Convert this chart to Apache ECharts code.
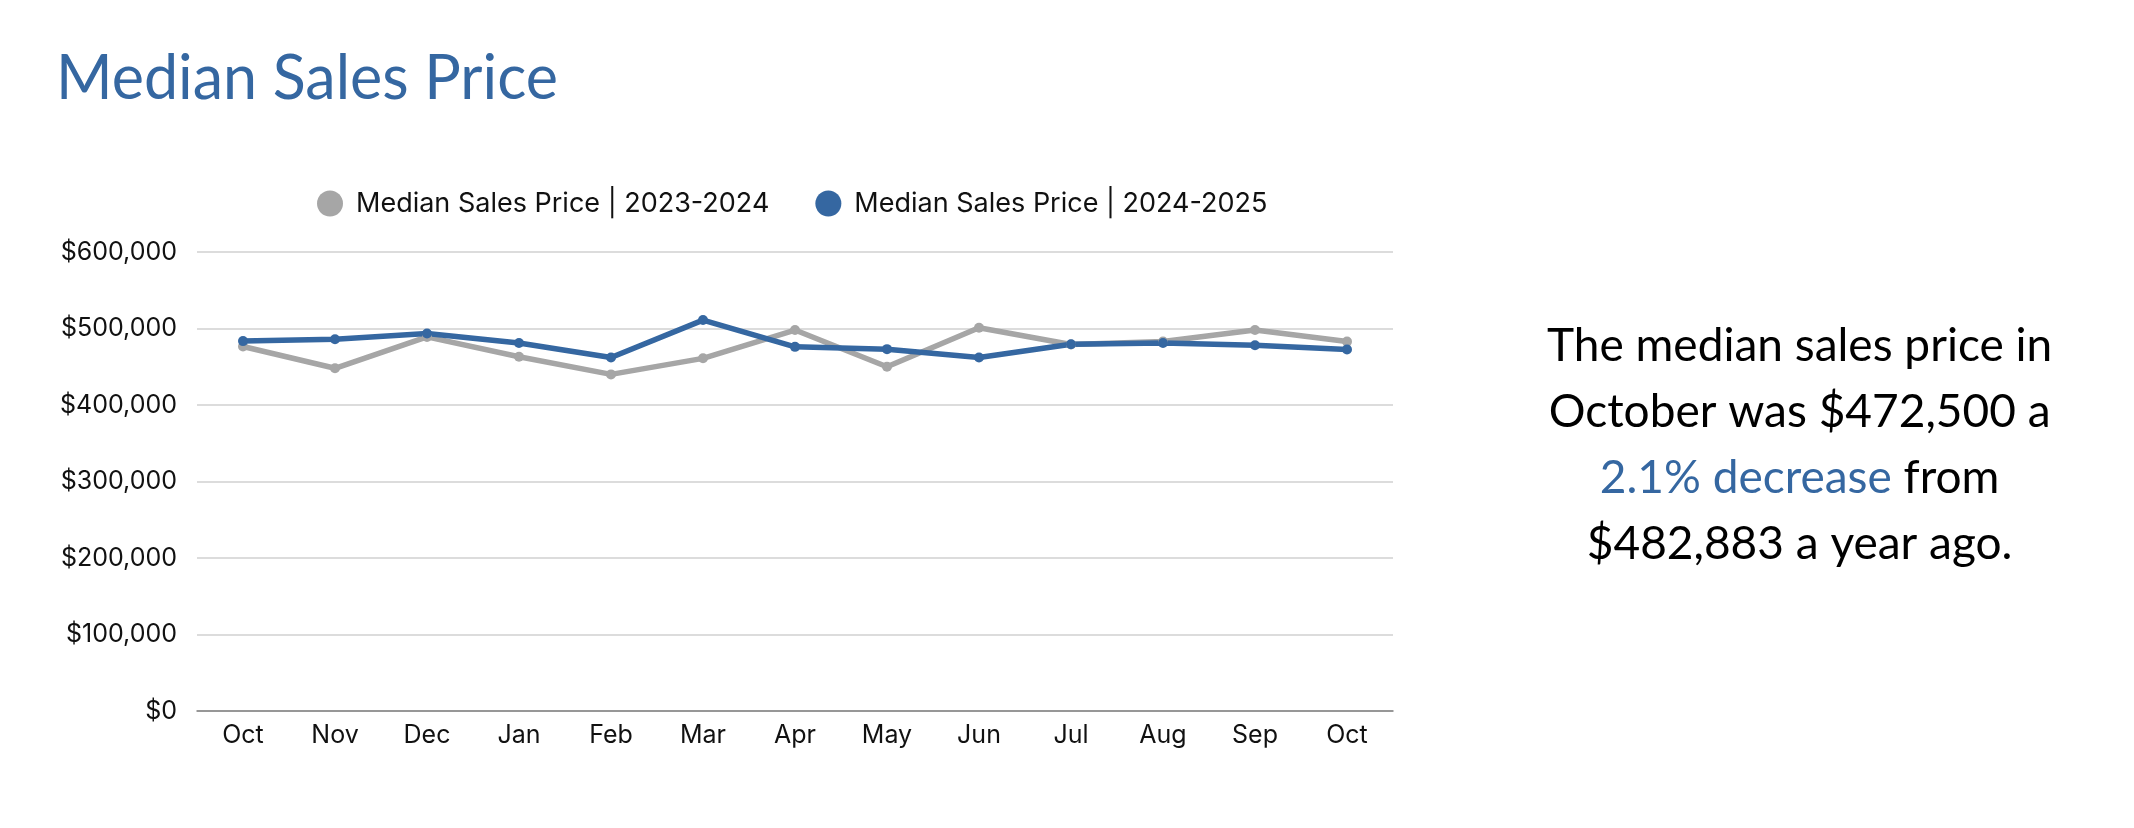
<!DOCTYPE html>
<html>
<head>
<meta charset="utf-8">
<script src="https://cdn.jsdelivr.net/npm/echarts@6/dist/echarts.min.js"></script>
<style>
  html, body { margin: 0; padding: 0; background: #fff; }
  #chart { width: 2134px; height: 828px; }
</style>
</head>
<body>
<div id="chart"></div>
<script>
(function () {
  var months = ["Oct", "Nov", "Dec", "Jan", "Feb", "Mar", "Apr", "May", "Jun", "Jul", "Aug", "Sep", "Oct"];
  var prior = [476500, 448000, 489000, 463000, 440000, 461000, 498000, 450000, 501000, 479000, 483000, 498000, 482883];
  var current = [483500, 486000, 493500, 481000, 462000, 511000, 476000, 473000, 462000, 479500, 481000, 478000, 472500];
  var seriesNames = ["Median Sales Price | 2023-2024", "Median Sales Price | 2024-2025"];
  var yTicks = [0, 100000, 200000, 300000, 400000, 500000, 600000];
  var changeText = "2.1% decrease";

  var blue = "#3567a1";
  var gray = "#a6a6a6";
  var labelFont = "Inter, 'Noto Sans', sans-serif";
  var headFont = "Lato, 'Noto Sans', sans-serif";

  function money(v) {
    return "$" + Math.round(v).toLocaleString("en-US");
  }

  var last = current[current.length - 1];
  var yearAgo = prior[prior.length - 1];

  var myChart = echarts.init(document.getElementById("chart"));
  myChart.setOption({
    animation: false,
    title: {
      text: "Median Sales Price",
      left: 51,
      top: 44,
      textStyle: {
        fontFamily: headFont,
        fontSize: 61,
        fontWeight: 400,
        color: blue,
      },
    },
    legend: {
      left: 312,
      top: 185,
      icon: "circle",
      itemWidth: 26,
      itemHeight: 26,
      itemGap: 46,
      textStyle: {
        fontFamily: labelFont,
        fontSize: 27,
        color: "#111",
        padding: [0, 0, 0, 8],
      },
      data: seriesNames,
    },
    grid: {
      left: 197,
      right: 741,
      top: 252,
      bottom: 117,
    },
    xAxis: {
      type: "category",
      data: months,
      boundaryGap: true,
      axisLine: { lineStyle: { color: "#808080", width: 1.5 } },
      axisTick: { show: false },
      axisLabel: {
        fontFamily: labelFont,
        fontSize: 25,
        color: "#111",
        margin: 12,
      },
    },
    yAxis: {
      type: "value",
      min: yTicks[0],
      max: yTicks[yTicks.length - 1],
      interval: yTicks[1] - yTicks[0],
      axisLine: { show: false },
      axisTick: { show: false },
      splitLine: { lineStyle: { color: "#d0d0d0", width: 1.5 } },
      axisLabel: {
        fontFamily: labelFont,
        fontSize: 25,
        color: "#111",
        margin: 20,
        formatter: money,
      },
    },
    series: [
      {
        name: seriesNames[0],
        type: "line",
        data: prior,
        symbol: "circle",
        symbolSize: 10,
        lineStyle: { color: gray, width: 5.5 },
        itemStyle: { color: gray },
      },
      {
        name: seriesNames[1],
        type: "line",
        data: current,
        symbol: "circle",
        symbolSize: 10,
        lineStyle: { color: blue, width: 5.5 },
        itemStyle: { color: blue },
      },
    ],
    graphic: [
      {
        type: "text",
        left: 1847 - 300,
        top: 323,
        style: {
          width: 600,
          align: "center",
          text:
            "{n|The median sales price in}\n" +
            "{n|October was " + money(last) + " a}\n" +
            "{b|" + changeText + "}{n| from}\n" +
            "{n|" + money(yearAgo) + " a year ago.}",
          rich: {
            n: { fontFamily: headFont, fontSize: 46, fill: "#000", lineHeight: 66, align: "center" },
            b: { fontFamily: headFont, fontSize: 46, fill: blue, lineHeight: 66, align: "center" },
          },
        },
      },
    ],
  });
  window.addEventListener("resize", function () {
    myChart.resize();
  });
})();
</script>
</body>
</html>
